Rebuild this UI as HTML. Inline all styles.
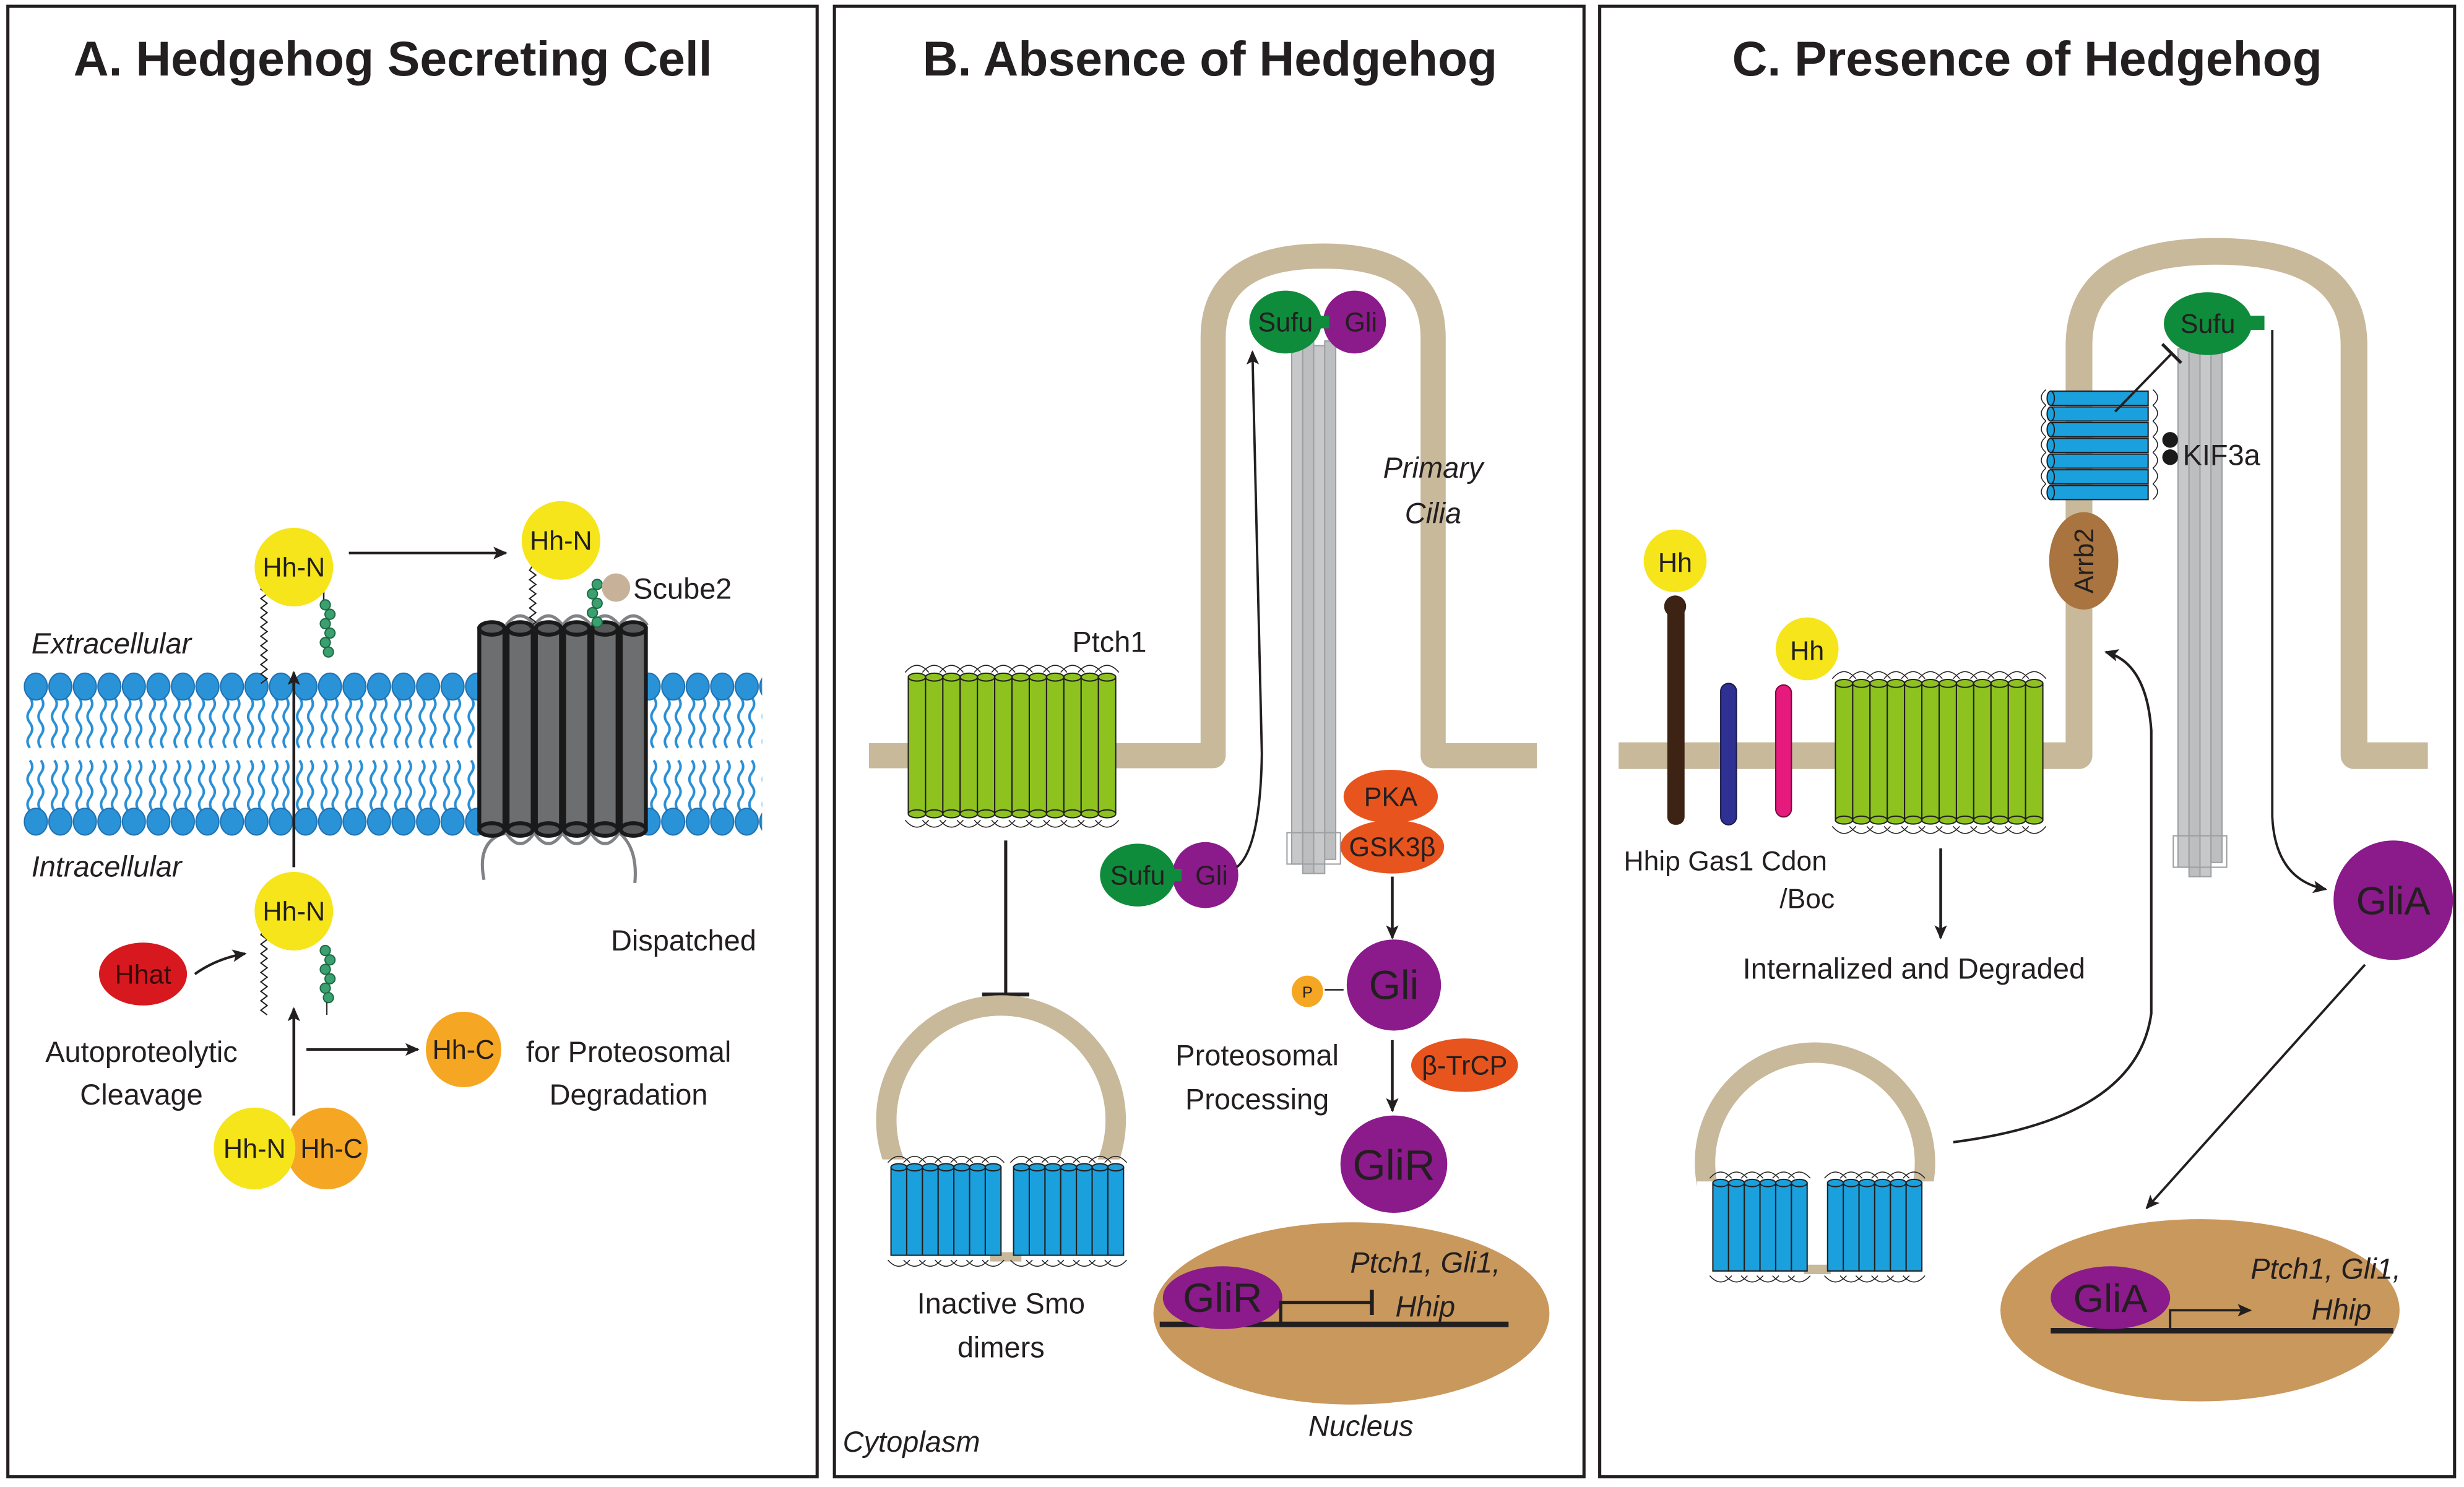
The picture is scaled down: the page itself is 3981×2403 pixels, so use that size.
<!DOCTYPE html>
<html><head><meta charset="utf-8"><style>
html,body{margin:0;padding:0;background:#fff}
svg{display:block}
text{font-family:"Liberation Sans",sans-serif;fill:#231f20}
.t{font-size:31px;font-weight:bold;text-anchor:middle}
.l{font-size:18.5px;text-anchor:middle}
.i{font-style:italic}
.m{font-size:17px;text-anchor:middle}
</style></head><body>
<svg width="3981" height="2403" viewBox="0 0 1568 946.5" preserveAspectRatio="none" xmlns="http://www.w3.org/2000/svg">
<defs>
<marker id="ah" markerWidth="10" markerHeight="10" refX="8" refY="5" orient="auto" markerUnits="userSpaceOnUse"><path d="M0,1 L9,5 L0,9 L2,5 Z" fill="#231f20"/></marker>
<pattern id="lip" patternUnits="userSpaceOnUse" x="15" y="428" width="15.6" height="104">
<path d="M4,16 q3,4 0,8 q-3,4 0,8 q3,4 0,8 q-3,4 0,8 M11,16 q3,4 0,8 q-3,4 0,8 q3,4 0,8 q-3,4 0,8 M4,56 q3,4 0,8 q-3,4 0,8 q3,4 0,8 q-3,4 0,8 M11,56 q3,4 0,8 q-3,4 0,8 q3,4 0,8 q-3,4 0,8" stroke="#2a8fd6" stroke-width="1.6" fill="none"/>
<ellipse cx="7.8" cy="9" rx="7.3" ry="8.5" fill="#2a93d8" stroke="#1d6fb0" stroke-width="0.8"/>
<ellipse cx="7.8" cy="95" rx="7.3" ry="8.5" fill="#2a93d8" stroke="#1d6fb0" stroke-width="0.8"/>
</pattern>
<g id="gc"><path d="M-2,0 q7.5,-9 15,0" stroke="#231f20" stroke-width="0.6" fill="none"/><rect x="0" y="3" width="11" height="87" fill="#8dc21f" stroke="#231f20" stroke-width="0.8"/><ellipse cx="5.5" cy="3" rx="5.5" ry="2.5" fill="#8dc21f" stroke="#231f20" stroke-width="0.8"/><ellipse cx="5.5" cy="90" rx="5.5" ry="2.5" fill="#8dc21f" stroke="#231f20" stroke-width="0.8"/><path d="M-2,94 q7.5,9 15,0" stroke="#231f20" stroke-width="0.6" fill="none"/></g>
<g id="bc"><path d="M-2,0 q7,-8 14,0" stroke="#231f20" stroke-width="0.6" fill="none"/><rect x="0" y="3" width="10" height="56" fill="#1aa0dc" stroke="#231f20" stroke-width="0.8"/><ellipse cx="5" cy="3" rx="5" ry="2.3" fill="#1aa0dc" stroke="#231f20" stroke-width="0.8"/><path d="M-2,62 q7,8 14,0" stroke="#231f20" stroke-width="0.6" fill="none"/></g>
<g id="hc"><rect x="0" y="0" width="62" height="9" fill="#1aa0dc" stroke="#231f20" stroke-width="0.8"/><ellipse cx="0" cy="4.5" rx="2.3" ry="4.5" fill="#1aa0dc" stroke="#231f20" stroke-width="0.8"/><path d="M-3,-1 q-6,5 0,10 M65,-1 q6,5 0,10" stroke="#231f20" stroke-width="0.6" fill="none"/></g>
<g id="dc"><rect x="0" y="0" width="16" height="128" fill="#6d6e70" stroke="#1a1a1a" stroke-width="2.5"/><ellipse cx="8" cy="0" rx="8" ry="4" fill="#58595b" stroke="#1a1a1a" stroke-width="2.5"/><ellipse cx="8" cy="128" rx="8" ry="4" fill="#58595b" stroke="#1a1a1a" stroke-width="2.5"/></g>
<g id="ax"><rect x="0" y="0" width="7" height="330" fill="#c7c8ca" stroke="#9d9fa2" stroke-width="0.8"/><rect x="7" y="-4" width="7" height="340" fill="#bcbec0" stroke="#9d9fa2" stroke-width="0.8"/><rect x="14" y="0" width="7" height="336" fill="#c7c8ca" stroke="#9d9fa2" stroke-width="0.8"/><rect x="21" y="-3" width="7" height="330" fill="#bcbec0" stroke="#9d9fa2" stroke-width="0.8"/><rect x="-3" y="310" width="34" height="20" fill="none" stroke="#9d9fa2" stroke-width="0.8"/></g>
</defs>

<!-- panel borders -->
<rect x="5" y="4" width="515" height="936" fill="none" stroke="#231f20" stroke-width="2"/>
<rect x="531" y="4" width="477" height="936" fill="none" stroke="#231f20" stroke-width="2"/>
<rect x="1018" y="4" width="544" height="936" fill="none" stroke="#231f20" stroke-width="2"/>

<!-- ===== Panel A ===== -->
<text class="t" x="250" y="48">A. Hedgehog Secreting Cell</text>
<rect x="15" y="428" width="470" height="104" fill="url(#lip)"/>
<text class="l i" x="20" y="416" style="text-anchor:start">Extracellular</text>
<text class="l i" x="20" y="558" style="text-anchor:start">Intracellular</text>
<path d="M322,398 q9,-12 18,0 q9,-12 18,0 q9,-12 18,0 q9,-12 18,0 q9,-12 18,0" stroke="#808285" stroke-width="2" fill="none"/>
<path d="M308,560 q-5,-25 14,-30 q9,14 18,0 q9,14 18,0 q9,14 18,0 q9,14 18,0 q12,10 10,32" stroke="#808285" stroke-width="2" fill="none"/>
<use href="#dc" x="305" y="400"/><use href="#dc" x="323" y="400"/><use href="#dc" x="341" y="400"/><use href="#dc" x="359" y="400"/><use href="#dc" x="377" y="400"/><use href="#dc" x="395" y="400"/>
<text class="l" x="435" y="605">Dispatched</text>
<path d="M168,372 l-2,3 l4,3 l-4,3 l4,3 l-4,3 l4,3 l-4,3 l4,3 l-4,3 l4,3 l-4,3 l4,3 l-4,3 l4,3 l-4,3 l4,3 l-4,3 l4,3 l-4,3 l4,3 l-4,3" stroke="#231f20" stroke-width="0.8" fill="none"/>
<path d="M206,372 v10" stroke="#231f20"/>
<g fill="#3aa070" stroke="#1e6b45" stroke-width="0.8"><circle cx="207" cy="385" r="3.2"/><circle cx="210" cy="391" r="3.2"/><circle cx="207" cy="397" r="3.2"/><circle cx="210" cy="403" r="3.2"/><circle cx="207" cy="409" r="3.2"/><circle cx="209" cy="415" r="3.2"/></g>
<circle cx="187" cy="361" r="25" fill="#f6e51a"/>
<text class="m" x="187" y="367">Hh-N</text>
<line x1="222" y1="352" x2="322" y2="352" stroke="#231f20" stroke-width="1.6" marker-end="url(#ah)"/>
<path d="M339,360 l-2,3 l4,3 l-4,3 l4,3 l-4,3 l4,3 l-4,3 l4,3 l-4,3 l4,3 l-4,3 l4,3 l-4,3 l4,3" stroke="#231f20" stroke-width="0.8" fill="none"/>
<g fill="#3aa070" stroke="#1e6b45" stroke-width="0.8"><circle cx="380" cy="372" r="3.2"/><circle cx="377" cy="378" r="3.2"/><circle cx="380" cy="384" r="3.2"/><circle cx="377" cy="390" r="3.2"/><circle cx="380" cy="396" r="3.2"/></g>
<circle cx="392" cy="374" r="9" fill="#c7b299"/>
<circle cx="357" cy="344" r="25" fill="#f6e51a"/>
<text class="m" x="357" y="350">Hh-N</text>
<text class="l" x="403" y="381" style="text-anchor:start">Scube2</text>
<line x1="187" y1="552" x2="187" y2="428" stroke="#231f20" stroke-width="1.8" marker-end="url(#ah)"/>
<path d="M168,592 l-2,3 l4,3 l-4,3 l4,3 l-4,3 l4,3 l-4,3 l4,3 l-4,3 l4,3 l-4,3 l4,3 l-4,3 l4,3 l-4,3 l4,3 l-4,3 l4,3" stroke="#231f20" stroke-width="0.8" fill="none"/>
<g fill="#3aa070" stroke="#1e6b45" stroke-width="0.8"><circle cx="207" cy="605" r="3.2"/><circle cx="210" cy="611" r="3.2"/><circle cx="207" cy="617" r="3.2"/><circle cx="210" cy="623" r="3.2"/><circle cx="207" cy="629" r="3.2"/><circle cx="209" cy="635" r="3.2"/></g>
<path d="M208,638 v8" stroke="#231f20" stroke-width="0.8"/>
<circle cx="187" cy="580" r="25" fill="#f6e51a"/>
<text class="m" x="187" y="586">Hh-N</text>
<ellipse cx="91" cy="620" rx="28" ry="20" fill="#d7191f"/>
<text class="m" x="91" y="626" style="fill:#3a0a0a">Hhat</text>
<path d="M124,620 Q138,610 156,607" stroke="#231f20" stroke-width="1.6" fill="none" marker-end="url(#ah)"/>
<text class="l" x="90" y="676">Autoproteolytic</text>
<text class="l" x="90" y="703">Cleavage</text>
<line x1="187" y1="710" x2="187" y2="642" stroke="#231f20" stroke-width="1.8" marker-end="url(#ah)"/>
<line x1="195" y1="668" x2="266" y2="668" stroke="#231f20" stroke-width="1.6" marker-end="url(#ah)"/>
<circle cx="295" cy="668" r="24" fill="#f5a623"/>
<text class="m" x="295" y="674">Hh-C</text>
<text class="l" x="400" y="676">for Proteosomal</text>
<text class="l" x="400" y="703">Degradation</text>
<circle cx="208" cy="731" r="26" fill="#f5a623"/>
<circle cx="162" cy="731" r="26" fill="#f6e51a"/>
<text class="m" x="162" y="737">Hh-N</text>
<text class="m" x="211" y="737">Hh-C</text>

<!-- ===== Panel B ===== -->
<text class="t" x="770" y="48">B. Absence of Hedgehog</text>
<path d="M553,481 H772 V215 Q772,163 842,163 Q912,163 912,215 V481 H978" stroke="#c8b99b" stroke-width="16" fill="none" stroke-linejoin="round"/>
<use href="#ax" x="822" y="220"/>
<g><use href="#gc" x="578" y="428"/><use href="#gc" x="589" y="428"/><use href="#gc" x="600" y="428"/><use href="#gc" x="611" y="428"/><use href="#gc" x="622" y="428"/><use href="#gc" x="633" y="428"/><use href="#gc" x="644" y="428"/><use href="#gc" x="655" y="428"/><use href="#gc" x="666" y="428"/><use href="#gc" x="677" y="428"/><use href="#gc" x="688" y="428"/><use href="#gc" x="699" y="428"/></g>
<text class="l" x="706" y="415">Ptch1</text>
<line x1="640" y1="535" x2="640" y2="632" stroke="#231f20" stroke-width="2"/>
<line x1="625" y1="633" x2="655" y2="633" stroke="#231f20" stroke-width="2.5"/>
<circle cx="637" cy="713" r="73" fill="none" stroke="#c8b99b" stroke-width="13"/>
<rect x="560" y="738" width="160" height="66" fill="#fff"/>
<line x1="630" y1="800" x2="650" y2="800" stroke="#c8b99b" stroke-width="6"/>
<g><use href="#bc" x="567" y="740"/><use href="#bc" x="577" y="740"/><use href="#bc" x="587" y="740"/><use href="#bc" x="597" y="740"/><use href="#bc" x="607" y="740"/><use href="#bc" x="617" y="740"/><use href="#bc" x="627" y="740"/>
<use href="#bc" x="645" y="740"/><use href="#bc" x="655" y="740"/><use href="#bc" x="665" y="740"/><use href="#bc" x="675" y="740"/><use href="#bc" x="685" y="740"/><use href="#bc" x="695" y="740"/><use href="#bc" x="705" y="740"/></g>
<text class="l" x="637" y="836">Inactive Smo</text>
<text class="l" x="637" y="864">dimers</text>
<circle cx="862" cy="205" r="20" fill="#8b1a8b"/>
<ellipse cx="818" cy="205" rx="23" ry="20" fill="#0f8b3c"/>
<rect x="836" y="201" width="10" height="8" fill="#0f8b3c"/>
<text class="m" x="818" y="211">Sufu</text><text class="m" x="866" y="211">Gli</text>
<circle cx="767" cy="557" r="21" fill="#8b1a8b"/>
<ellipse cx="724" cy="557" rx="24" ry="20" fill="#0f8b3c"/>
<rect x="742" y="553" width="10" height="8" fill="#0f8b3c"/>
<text class="m" x="724" y="563">Sufu</text><text class="m" x="771" y="563">Gli</text>
<path d="M787,552 Q802,540 803,480 L797,224" stroke="#231f20" stroke-width="1.5" fill="none" marker-end="url(#ah)"/>
<text class="l i" x="912" y="304">Primary</text>
<text class="l i" x="912" y="333">Cilia</text>
<ellipse cx="885" cy="507" rx="30" ry="17" fill="#e8541e"/>
<text class="m" x="885" y="513">PKA</text>
<ellipse cx="886" cy="539" rx="33" ry="17" fill="#e8541e"/>
<text class="m" x="886" y="545">GSK3β</text>
<line x1="886" y1="558" x2="886" y2="597" stroke="#231f20" stroke-width="1.8" marker-end="url(#ah)"/>
<ellipse cx="887" cy="627" rx="30" ry="29" fill="#8b1a8b"/>
<text x="887" y="636" style="font-size:26px;text-anchor:middle">Gli</text>
<circle cx="832" cy="631" r="10" fill="#f5a623"/>
<text x="832" y="635" style="font-size:10px;text-anchor:middle">P</text>
<line x1="843" y1="630" x2="855" y2="630" stroke="#231f20"/>
<text class="l" x="800" y="678">Proteosomal</text>
<text class="l" x="800" y="706">Processing</text>
<line x1="886" y1="662" x2="886" y2="707" stroke="#231f20" stroke-width="1.8" marker-end="url(#ah)"/>
<ellipse cx="932" cy="678" rx="34" ry="17" fill="#e8541e"/>
<text class="m" x="932" y="684">β-TrCP</text>
<ellipse cx="887" cy="741" rx="34" ry="31" fill="#8b1a8b"/>
<text x="887" y="751" style="font-size:27px;text-anchor:middle">GliR</text>
<ellipse cx="860" cy="836" rx="126" ry="58" fill="#c9985c"/>
<line x1="738" y1="843" x2="960" y2="843" stroke="#231f20" stroke-width="3.5"/>
<ellipse cx="778" cy="826" rx="38" ry="20" fill="#8b1a8b"/>
<text x="778" y="835" style="font-size:26px;text-anchor:middle">GliR</text>
<path d="M815,842 V829 H873" stroke="#231f20" stroke-width="2" fill="none"/>
<line x1="873" y1="821" x2="873" y2="837" stroke="#231f20" stroke-width="2.5"/>
<text class="l i" x="907" y="810">Ptch1, Gli1,</text>
<text class="l i" x="907" y="838">Hhip</text>
<text class="l i" x="866" y="914">Nucleus</text>
<text class="l i" x="580" y="924">Cytoplasm</text>

<!-- ===== Panel C ===== -->
<text class="t" x="1290" y="48">C. Presence of Hedgehog</text>
<path d="M1030,481 H1323 V220 Q1323,160 1410,160 Q1498,160 1498,220 V481 H1545" stroke="#c8b99b" stroke-width="17" fill="none" stroke-linejoin="round"/>
<use href="#ax" x="1386" y="222"/>
<rect x="1061" y="385" width="11" height="140" rx="5" fill="#3d2314"/>
<circle cx="1066" cy="386" r="7" fill="#3d2314"/>
<circle cx="1066" cy="357" r="20" fill="#f6e51a"/>
<text class="m" x="1066" y="364">Hh</text>
<rect x="1095" y="435" width="10" height="90" rx="5" fill="#2e3192" stroke="#1a1a4a" stroke-width="0.8"/>
<rect x="1130" y="436" width="10" height="84" rx="5" fill="#e6197d" stroke="#7a0a40" stroke-width="0.8"/>
<circle cx="1150" cy="413" r="20" fill="#f6e51a"/>
<text class="m" x="1150" y="420">Hh</text>
<g><use href="#gc" x="1168" y="432"/><use href="#gc" x="1179" y="432"/><use href="#gc" x="1190" y="432"/><use href="#gc" x="1201" y="432"/><use href="#gc" x="1212" y="432"/><use href="#gc" x="1223" y="432"/><use href="#gc" x="1234" y="432"/><use href="#gc" x="1245" y="432"/><use href="#gc" x="1256" y="432"/><use href="#gc" x="1267" y="432"/><use href="#gc" x="1278" y="432"/><use href="#gc" x="1289" y="432"/></g>
<text class="m" x="1098" y="554" style="font-size:17.5px">Hhip Gas1 Cdon</text>
<text class="m" x="1150" y="578" style="font-size:17.5px">/Boc</text>
<line x1="1235" y1="540" x2="1235" y2="597" stroke="#231f20" stroke-width="1.8" marker-end="url(#ah)"/>
<text class="l" x="1218" y="623">Internalized and Degraded</text>
<circle cx="1155" cy="740" r="70" fill="none" stroke="#c8b99b" stroke-width="13"/>
<rect x="1080" y="752" width="155" height="66" fill="#fff"/>
<line x1="1148" y1="808" x2="1165" y2="808" stroke="#c8b99b" stroke-width="6"/>
<g><use href="#bc" x="1090" y="750"/><use href="#bc" x="1100" y="750"/><use href="#bc" x="1110" y="750"/><use href="#bc" x="1120" y="750"/><use href="#bc" x="1130" y="750"/><use href="#bc" x="1140" y="750"/>
<use href="#bc" x="1163" y="750"/><use href="#bc" x="1173" y="750"/><use href="#bc" x="1183" y="750"/><use href="#bc" x="1193" y="750"/><use href="#bc" x="1203" y="750"/><use href="#bc" x="1213" y="750"/></g>
<path d="M1243,727 Q1360,712 1369,645 V465 Q1366,422 1340,415" stroke="#231f20" stroke-width="1.6" fill="none" marker-end="url(#ah)"/>
<g><use href="#hc" x="1305" y="249"/><use href="#hc" x="1305" y="259"/><use href="#hc" x="1305" y="269"/><use href="#hc" x="1305" y="279"/><use href="#hc" x="1305" y="289"/><use href="#hc" x="1305" y="299"/><use href="#hc" x="1305" y="309"/></g>
<ellipse cx="1326" cy="357" rx="22" ry="31" fill="#a9743f"/>
<text class="m" x="0" y="0" transform="translate(1332,357) rotate(-90)">Arrb2</text>
<circle cx="1381" cy="280" r="5" fill="#1a1a1a"/><circle cx="1381" cy="291" r="5" fill="#1a1a1a"/>
<text class="l" x="1389" y="296" style="text-anchor:start">KIF3a</text>
<ellipse cx="1405" cy="206" rx="28" ry="20" fill="#0f8b3c"/>
<rect x="1431" y="201" width="10" height="9" fill="#0f8b3c"/>
<text class="m" x="1405" y="212">Sufu</text>
<line x1="1346" y1="262" x2="1382" y2="225" stroke="#231f20" stroke-width="1.5"/>
<line x1="1376" y1="219" x2="1388" y2="231" stroke="#231f20" stroke-width="2"/>
<path d="M1446,210 V520 Q1448,560 1480,566" stroke="#231f20" stroke-width="1.5" fill="none" marker-end="url(#ah)"/>
<circle cx="1523" cy="573" r="38" fill="#8b1a8b"/>
<text x="1523" y="582" style="font-size:25px;text-anchor:middle">GliA</text>
<line x1="1505" y1="614" x2="1366" y2="769" stroke="#231f20" stroke-width="1.5" marker-end="url(#ah)"/>
<ellipse cx="1400" cy="834" rx="127" ry="58" fill="#c9985c"/>
<line x1="1305" y1="847" x2="1523" y2="847" stroke="#231f20" stroke-width="3.5"/>
<ellipse cx="1343" cy="826" rx="38" ry="20" fill="#8b1a8b"/>
<text x="1343" y="835" style="font-size:25px;text-anchor:middle">GliA</text>
<path d="M1381,846 V834 H1432" stroke="#231f20" stroke-width="1.5" fill="none" marker-end="url(#ah)"/>
<text class="l i" x="1480" y="814">Ptch1, Gli1,</text>
<text class="l i" x="1490" y="840">Hhip</text>
</svg>
</body></html>
